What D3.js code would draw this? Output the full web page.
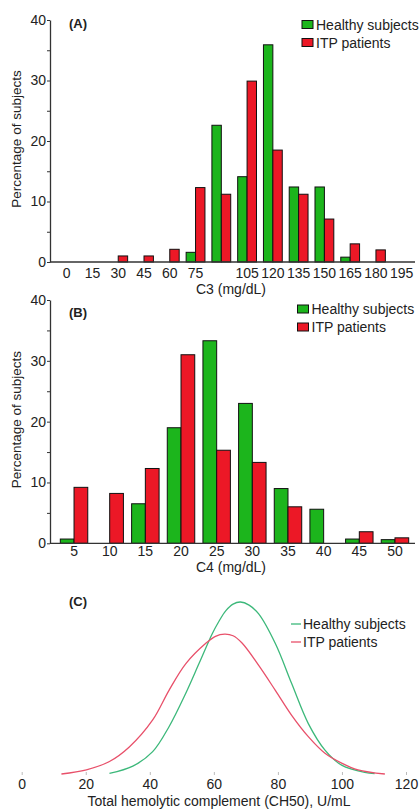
<!DOCTYPE html>
<html>
<head>
<meta charset="utf-8">
<script src="https://cdn.jsdelivr.net/npm/d3@7"></script>
<style>
  body { margin: 0; background: #fff; }
  svg text { font-family: "Liberation Sans", Arial, sans-serif; fill: #222; }
</style>
</head>
<body>
<svg id="chart" width="419" height="810"></svg>
<script>
// (A) C3 distribution, % of subjects per bin
const c3Bins = [0, 15, 30, 45, 60, 75, 90, 105, 120, 135, 150, 165, 180, 195];
const c3Healthy = [0, 0, 0, 0, 0, 1.6, 22.6, 14.1, 35.9, 12.4, 12.4, 0.8, 0, 0];
const c3Itp = [0, 0, 1.0, 1.0, 2.1, 12.3, 11.2, 29.9, 18.5, 11.2, 7.1, 3.0, 2.0, 0];
const c3TickLabels = [0, 15, 30, 45, 60, 75, 105, 120, 135, 150, 165, 180, 195];

// (B) C4 distribution
const c4Bins = [5, 10, 15, 20, 25, 30, 35, 40, 45, 50];
const c4Healthy = [0.7, 0, 6.5, 19.0, 33.3, 23.0, 9.0, 5.6, 0.7, 0.6];
const c4Itp = [9.2, 8.2, 12.3, 31.0, 15.3, 13.3, 6.0, 0, 1.9, 0.9];

// (C) CH50 fitted curves [U/mL, density %]
const ch50Healthy = [[27.4, 0.01], [34.7, 0.15], [40.9, 0.43], [46, 0.91], [51.2, 1.55], [55.4, 2.13],
  [59.5, 2.70], [61.6, 2.94], [63.7, 3.14], [66, 3.27], [68.3, 3.31], [71, 3.25], [74, 3.08],
  [79.2, 2.51], [84.3, 1.74], [89.5, 0.97], [94.7, 0.46], [99.9, 0.17], [107.1, 0.03], [110.2, 0.01]];
const ch50Itp = [[12.4, 0.0], [20.2, 0.08], [27.4, 0.24], [33.6, 0.52], [40.9, 1.04], [46, 1.61],
  [51.2, 2.12], [57.4, 2.51], [60.5, 2.65], [63.4, 2.69], [66, 2.66], [68.8, 2.52], [74, 2.09],
  [79.2, 1.61], [84.3, 1.13], [89.5, 0.72], [94.7, 0.40], [99.9, 0.21], [105, 0.08], [113.4, 0.0]];
const ch50Ticks = [0, 20, 40, 60, 80, 100, 120];

const seriesNames = ['Healthy subjects', 'ITP patients'];
const barColors = ['#1cb51c', '#ec1826'];
const lineColors = ['#3cb87a', '#e8506a'];

const FONT = '"Liberation Sans", Arial, sans-serif';
const svg = d3.select('#chart');

function barPanel(cfg) {
  const g = svg.append('g');

  const y = d3.scaleLinear().domain([0, 40]).range([cfg.bottom, cfg.top]);
  const x = d3.scaleBand()
    .domain(cfg.bins)
    .range(cfg.xRange)
    .paddingInner(cfg.pad)
    .paddingOuter(cfg.pad / 2);
  const sub = d3.scaleBand().domain([0, 1]).range([0, x.bandwidth()]);

  const rows = [];
  cfg.bins.forEach((b, i) => {
    [cfg.healthy[i], cfg.itp[i]].forEach((v, k) => {
      if (v > 0) rows.push({ bin: b, k: k, v: v });
    });
  });

  g.selectAll('rect.bar')
    .data(rows)
    .join('rect')
    .attr('class', 'bar')
    .attr('x', d => x(d.bin) + sub(d.k))
    .attr('y', d => y(d.v))
    .attr('width', sub.bandwidth())
    .attr('height', d => y(0) - y(d.v))
    .attr('fill', d => barColors[d.k])
    .attr('stroke', '#111')
    .attr('stroke-width', 1);

  // y axis
  const ay = g.append('g')
    .attr('transform', `translate(50,0)`)
    .call(d3.axisLeft(y)
      .tickValues(d3.range(0, 41, 5))
      .tickFormat(d => d % 10 === 0 ? d : '')
      .tickSize(3)
      .tickSizeOuter(0));
  ay.select('.domain').attr('stroke', '#333').attr('stroke-width', 1.3);
  ay.selectAll('.tick line').attr('stroke', '#333');
  ay.selectAll('.tick text')
    .attr('x', -4)
    .style('font-size', '14px')
    .style('font-family', FONT)
    .attr('fill', '#222');

  // x axis
  g.append('line')
    .attr('x1', 50).attr('x2', 415)
    .attr('y1', y(0)).attr('y2', y(0))
    .attr('stroke', '#333').attr('stroke-width', 1.3);
  const ax = g.append('g')
    .attr('transform', `translate(0,${y(0)})`)
    .call(d3.axisBottom(x).tickValues(cfg.tickLabels).tickSize(0));
  ax.select('.domain').remove();
  ax.selectAll('.tick text')
    .attr('y', cfg.tickDy)
    .attr('dy', 0)
    .style('font-size', '14px')
    .style('font-family', FONT)
    .attr('fill', '#222');

  g.append('text')
    .attr('x', 231).attr('y', cfg.xTitleY)
    .attr('text-anchor', 'middle')
    .style('font-size', '14px')
    .text(cfg.xTitle);

  g.append('text')
    .attr('transform', `translate(21,${(cfg.top + cfg.bottom) / 2 - 2}) rotate(-90)`)
    .attr('text-anchor', 'middle')
    .style('font-size', '13.5px')
    .text('Percentage of subjects');

  g.append('text')
    .attr('x', 69).attr('y', cfg.top + cfg.tagDy)
    .style('font-size', '13px')
    .style('font-weight', 'bold')
    .text(cfg.tag);

  // legend
  const leg = g.append('g');
  seriesNames.forEach((name, k) => {
    const by = cfg.legY + k * 18;
    leg.append('rect')
      .attr('x', cfg.legX).attr('y', by - 9)
      .attr('width', 11).attr('height', 8)
      .attr('fill', barColors[k])
      .attr('stroke', '#111').attr('stroke-width', 1);
    leg.append('text')
      .attr('x', cfg.legX + 14).attr('y', by)
      .style('font-size', '14px')
      .text(name);
  });
}

barPanel({
  tag: '(A)', bins: c3Bins, healthy: c3Healthy, itp: c3Itp, tickLabels: c3TickLabels,
  top: 20, bottom: 262, xRange: [53.8, 414.6], pad: 0.27,
  tickDy: 16, xTitle: 'C3 (mg/dL)', xTitleY: 294, tagDy: 8,
  legX: 302, legY: 29.5
});

barPanel({
  tag: '(B)', bins: c4Bins, healthy: c4Healthy, itp: c4Itp, tickLabels: c4Bins,
  top: 300, bottom: 543.3, xRange: [56.2, 412.8], pad: 0.23,
  tickDy: 13, xTitle: 'C4 (mg/dL)', xTitleY: 572, tagDy: 17,
  legX: 297.5, legY: 314
});

// (C) fitted curves
const xC = d3.scaleLinear().domain([0, 120]).range([21.7, 406]);
const yC = d3.scaleLinear().domain([0, 3.31]).range([774, 602]);
const gC = svg.append('g');

const line = d3.line()
  .x(d => xC(d[0]))
  .y(d => yC(d[1]))
  .curve(d3.curveCatmullRom.alpha(0.5));

[ch50Healthy, ch50Itp].forEach((pts, k) => {
  gC.append('path')
    .attr('d', line(pts))
    .attr('fill', 'none')
    .attr('stroke', lineColors[k])
    .attr('stroke-width', 1.3);
});

const axC = gC.append('g')
  .attr('transform', 'translate(0,774)')
  .call(d3.axisBottom(xC).tickValues(ch50Ticks).tickSize(0));
axC.select('.domain').remove();
axC.selectAll('.tick line').remove();
axC.selectAll('.tick').append('line')
  .attr('y1', -2).attr('y2', 1)
  .attr('stroke', '#bbb');
axC.selectAll('.tick text')
  .attr('y', 15)
  .attr('dy', 0)
  .style('font-size', '14px')
  .style('font-family', FONT)
  .attr('fill', '#222');

gC.append('text')
  .attr('x', 219).attr('y', 806)
  .attr('text-anchor', 'middle')
  .style('font-size', '14px')
  .text('Total hemolytic complement (CH50), U/mL');

gC.append('text')
  .attr('x', 69).attr('y', 606)
  .style('font-size', '13px')
  .style('font-weight', 'bold')
  .text('(C)');

seriesNames.forEach((name, k) => {
  const by = 629 + k * 18;
  gC.append('line')
    .attr('x1', 291).attr('x2', 301)
    .attr('y1', by - 5).attr('y2', by - 5)
    .attr('stroke', lineColors[k]).attr('stroke-width', 1.3);
  gC.append('text')
    .attr('x', 303).attr('y', by)
    .style('font-size', '14px')
    .text(name);
});
</script>
</body>
</html>
